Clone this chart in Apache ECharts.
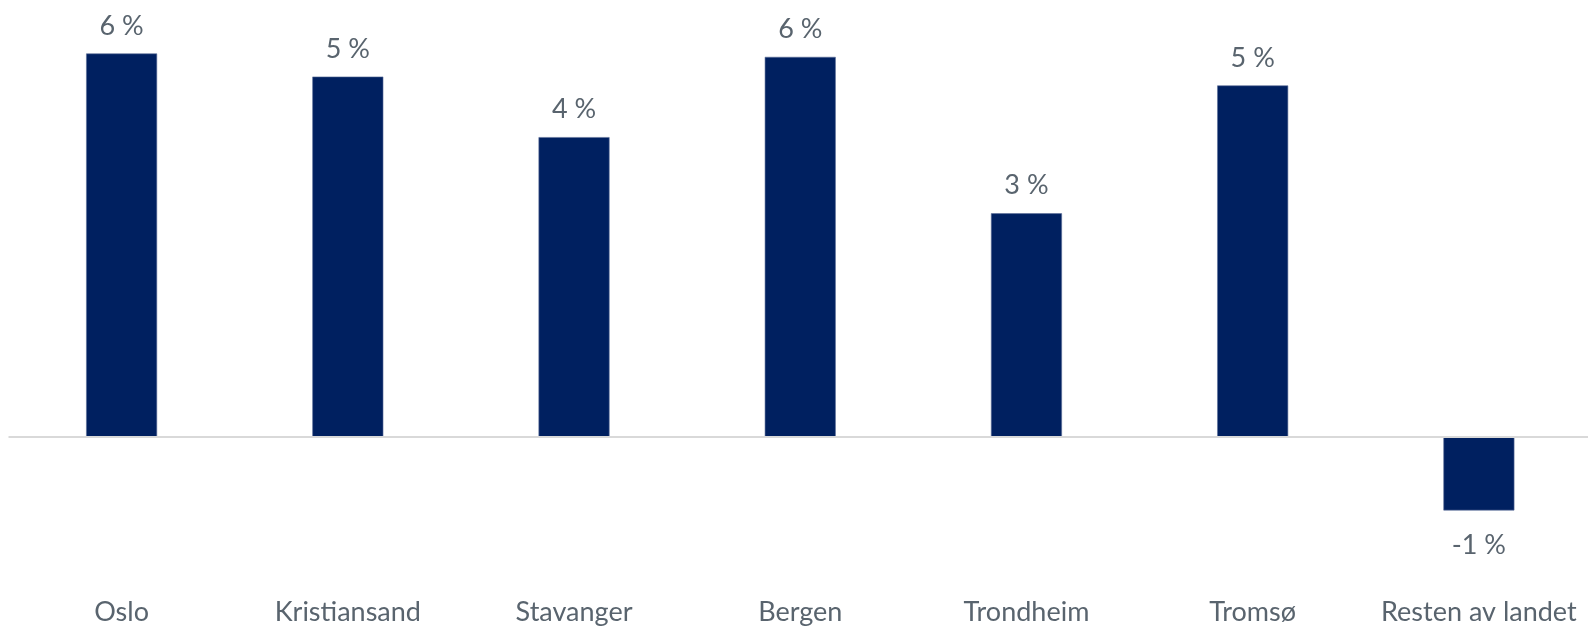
<!DOCTYPE html>
<html>
<head>
<meta charset="utf-8">
<script src="https://cdn.jsdelivr.net/npm/echarts@6/dist/echarts.min.js"></script>
<style>
html,body{margin:0;padding:0;background:#fff;overflow:hidden;width:1588px;height:629px;}
#chart{width:1596px;height:629px;}
</style>
</head>
<body>
<div id="chart"></div>
<script>
const categories = ['Oslo', 'Kristiansand', 'Stavanger', 'Bergen', 'Trondheim', 'Tromsø', 'Resten av landet'];
const values = [5.64, 5.30, 4.41, 5.59, 3.29, 5.17, -1.08];
const yMin = -2;
const yMax = 6;

const FONT = 'Lato';
const TEXT = '#59646e';
const BAR = '#002060';

const chart = echarts.init(document.getElementById('chart'), null, {renderer: 'canvas'});
chart.setOption({
  animation: false,
  backgroundColor: '#fff',
  grid: {left: 8.5, right: 4, top: 29, bottom: 56, containLabel: false, outerBoundsMode: 'none'},
  xAxis: {
    type: 'category',
    data: categories,
    axisLine: {show: false, onZero: false},
    axisTick: {show: false},
    axisLabel: {color: TEXT, fontFamily: FONT, fontSize: 27, margin: 26, interval: 0}
  },
  yAxis: {
    type: 'value',
    min: yMin,
    max: yMax,
    interval: 1,
    show: false,
    splitLine: {show: false}
  },
  series: [{
    type: 'bar',
    barWidth: 71,
    data: values.map(v => ({
      value: v,
      label: v < 0 ? {position: 'bottom', distance: 21} : {position: 'top', distance: 14}
    })),
    itemStyle: {color: BAR, borderColor: '#5c6f99', borderWidth: 0.6},
    label: {
      show: true,
      color: TEXT,
      fontFamily: FONT,
      fontSize: 27,
      formatter: p => Math.round(p.value) + ' %'
    },
    markLine: {
      silent: true,
      symbol: 'none',
      label: {show: false},
      lineStyle: {color: '#d9d9d9', width: 2, type: 'solid'},
      data: [{yAxis: 0}]
    },
    z: 3
  }]
});
</script>
</body>
</html>
